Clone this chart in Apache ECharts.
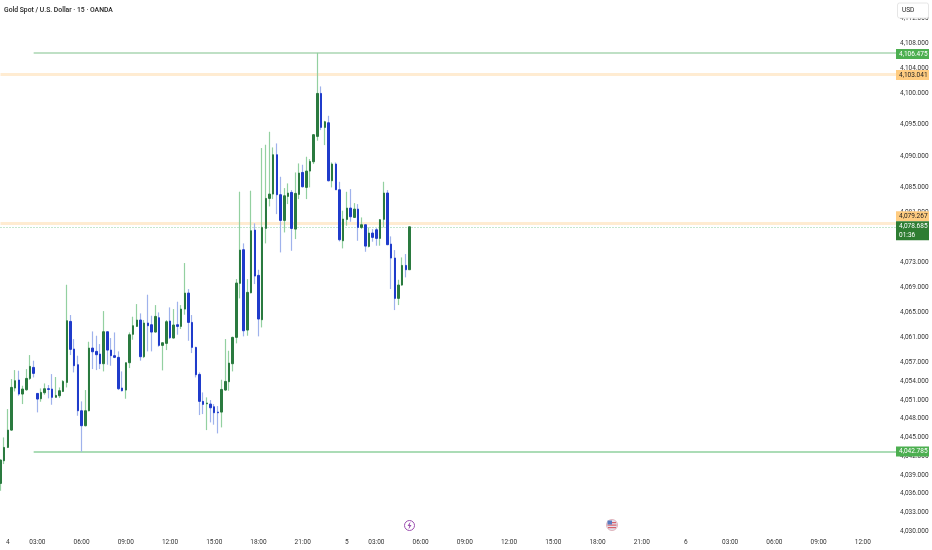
<!DOCTYPE html>
<html><head><meta charset="utf-8">
<style>html,body{margin:0;padding:0;background:#fff}#c{width:932px;height:550px}</style>
<script src="https://cdn.jsdelivr.net/npm/echarts@6/dist/echarts.min.js"></script>
</head><body><div id="c"></div>
<script>
const title = 'Gold Spot / U.S. Dollar · 15 · OANDA';
const opens = [4037.67,4041.29,4043.42,4046.19,4052.91,4054.19,4051.95,4052.64,4054.45,4056.21,4052.05,4051.20,4052.16,4052.80,4052.75,4051.42,4051.68,4052.37,4053.81,4063.56,4059.14,4056.64,4049.28,4046.89,4049.28,4059.30,4058.77,4058.34,4056.80,4061.91,4058.98,4058.08,4057.81,4052.91,4052.59,4056.96,4061.49,4062.76,4063.78,4057.92,4063.30,4063.03,4061.86,4064.15,4059.73,4060.05,4063.62,4060.90,4063.03,4062.76,4065.53,4068.09,4063.40,4059.41,4055.09,4050.78,4050.40,4050.35,4049.92,4049.07,4049.07,4052.59,4053.92,4056.80,4061.01,4069.64,4075.02,4062.18,4068.14,4078.16,4070.92,4063.83,4078.43,4083.22,4083.91,4090.20,4083.81,4079.70,4083.54,4084.18,4078.32,4083.86,4087.37,4084.98,4087.59,4089.08,4093.13,4100.00,4094.57,4095.31,4086.04,4088.71,4084.60,4076.45,4079.86,4081.67,4080.18,4081.51,4078.58,4079.01,4075.55,4077.68,4078.21,4076.83,4079.87,4084.08,4075.92,4073.69,4067.24,4069.37,4072.51,4071.82];
const closes = [4041.40,4043.42,4046.19,4053.01,4054.08,4051.95,4052.75,4054.45,4056.37,4055.25,4051.15,4052.21,4052.80,4052.69,4051.42,4051.73,4052.48,4053.97,4063.67,4059.09,4056.48,4049.28,4046.89,4049.28,4059.30,4058.71,4058.24,4056.80,4061.91,4058.98,4058.08,4057.81,4052.80,4052.48,4056.96,4061.43,4062.87,4063.78,4057.92,4063.30,4062.87,4061.86,4064.36,4059.73,4060.15,4063.51,4060.95,4062.98,4062.76,4065.53,4068.09,4063.40,4059.41,4055.04,4050.78,4050.30,4050.51,4049.76,4048.96,4048.96,4052.69,4053.97,4056.90,4061.01,4069.69,4074.96,4062.07,4068.20,4078.05,4070.81,4063.94,4078.59,4083.22,4083.91,4090.20,4083.81,4079.70,4083.64,4084.07,4078.42,4084.02,4087.27,4085.08,4087.59,4089.13,4093.40,4100.00,4094.57,4095.47,4086.04,4088.71,4084.60,4076.61,4079.92,4081.67,4080.29,4081.51,4078.58,4079.01,4075.60,4077.68,4076.99,4076.83,4079.81,4084.08,4075.82,4073.69,4067.24,4069.37,4072.51,4071.82,4078.685];
const lows = [4036.50,4040.76,4043.32,4046.09,4052.37,4051.68,4050.35,4052.48,4054.19,4054.61,4049.02,4050.72,4051.84,4051.26,4050.24,4051.42,4051.31,4052.27,4053.01,4058.18,4055.41,4048.48,4042.73,4046.78,4049.18,4055.94,4055.78,4055.94,4055.57,4056.64,4056.48,4057.70,4052.59,4052.37,4051.20,4056.10,4060.63,4062.70,4057.28,4057.70,4058.77,4058.77,4061.80,4059.51,4055.73,4058.98,4060.74,4060.85,4061.43,4062.34,4064.63,4060.47,4058.50,4054.61,4048.59,4048.75,4046.19,4047.42,4047.05,4045.66,4046.62,4052.48,4052.48,4055.57,4060.05,4067.24,4061.17,4061.27,4068.04,4069.53,4061.17,4062.60,4076.03,4081.94,4083.11,4080.71,4074.59,4077.78,4082.31,4074.85,4076.72,4083.11,4084.98,4083.11,4084.98,4088.71,4092.44,4094.14,4091.74,4085.94,4084.98,4084.60,4076.35,4075.23,4078.85,4079.49,4080.10,4076.45,4078.32,4074.69,4075.39,4076.30,4075.66,4075.66,4078.59,4075.76,4068.73,4065.37,4066.17,4069.26,4070.60,4071.82];
const highs = [4041.50,4045.02,4049.55,4054.35,4055.78,4055.68,4053.28,4055.94,4058.18,4057.28,4052.05,4052.85,4053.65,4053.39,4055.14,4054.67,4053.01,4054.19,4069.42,4064.58,4060.74,4058.08,4050.78,4052.59,4060.31,4061.96,4061.27,4059.94,4065.21,4061.91,4060.90,4061.80,4058.77,4055.57,4056.96,4061.80,4064.31,4066.33,4064.84,4063.78,4067.83,4064.47,4066.17,4065.00,4060.15,4063.78,4065.80,4065.53,4066.71,4066.17,4072.89,4068.73,4064.58,4059.51,4055.41,4052.21,4051.42,4050.99,4050.35,4050.03,4054.24,4060.74,4058.87,4061.11,4070.33,4084.29,4076.03,4070.33,4084.45,4079.23,4071.82,4091.27,4091.80,4093.87,4091.37,4092.01,4086.68,4084.87,4085.62,4084.55,4087.37,4088.81,4088.60,4089.88,4089.51,4093.50,4106.48,4101.12,4095.63,4096.43,4088.97,4088.97,4085.88,4081.25,4084.28,4084.71,4082.47,4082.31,4080.18,4079.01,4078.59,4078.32,4078.48,4079.92,4085.88,4084.55,4077.15,4074.96,4070.22,4073.79,4074.33,4078.69];

const slotCount = 244;
const timeTickSlots = [2,10,22,34,46,58,70,82,94,102,114,126,138,150,162,174,186,198,210,222,234];
const timeTickTexts = ['4','03:00','06:00','09:00','12:00','15:00','18:00','21:00','5','03:00','06:00','09:00','12:00','15:00','18:00','21:00','6','03:00','06:00','09:00','12:00'];
const priceTicks = [4030,4033,4036,4039,4042,4045,4048,4051,4054,4057,4061,4065,4069,4073,4081,4085,4090,4095,4100,4104,4108,4112];

const categories = Array.from({length:slotCount},(_,i)=>i);
const tickMap = new Map(timeTickSlots.map((s,i)=>[s,timeTickTexts[i]]));
const FONT = 'Roboto, sans-serif';
const GREEN='#2a7a3f', BLUE='#1f3bcb', GREEN_W='#93d0a0', BLUE_W='#9fb2ec';

const lastSlot = slotCount-1;
function level(val,start,text,col,w,type,bg,fg,dy){
  return [{coord:[start,val],lineStyle:{color:col,width:w,type:type},symbol:'none',
    label:{show:true,position:'end',distance:0,formatter:text,backgroundColor:bg,color:fg,
      fontFamily:FONT,fontSize:6.5,lineHeight:9,padding:[1,3,0,3],width:27,offset:[0,dy],align:'left'}},
    {coord:[lastSlot,val],symbol:'none'}];
}
const chart = echarts.init(document.getElementById('c'),null,{renderer:'canvas'});
const candle = (i)=>[opens[i],closes[i],lows[i],highs[i]];
chart.setOption({
  animation:false,
  backgroundColor:'#fff',
  grid:{left:0.5,top:0.7,right:36,height:533,containLabel:false,outerBoundsMode:'none'},
  xAxis:{type:'category',data:categories,boundaryGap:false,
    axisLine:{show:false},axisTick:{show:false},splitLine:{show:false},
    axisLabel:{margin:5,fontFamily:FONT,fontSize:6.5,color:'#333',
      interval:(i)=>tickMap.has(i),formatter:(v,i)=>tickMap.get(i)||''}},
  yAxis:{type:'value',position:'right',min:4029.63,max:4114.82,scale:true,
    axisLine:{show:false},axisTick:{show:false},splitLine:{show:false},
    axisLabel:{margin:4,fontFamily:FONT,fontSize:6.5,color:'#333',customValues:priceTicks,
      formatter:(v)=>v.toLocaleString('en-US',{minimumFractionDigits:3})}},
  graphic:[
    {type:'text',left:4,top:7,z:50,style:{text:title,font:'500 6.8px '+FONT,fill:'#222'}},
    {type:'rect',z:50,shape:{x:897.5,y:3,width:31,height:15,r:2},style:{fill:'#fff',stroke:'#e6e6e6',lineWidth:1}},
    {type:'text',z:51,left:902,top:7,style:{text:'USD',font:'6.5px '+FONT,fill:'#222'}},
    {type:'circle',z:50,shape:{cx:409.5,cy:525.5,r:5},style:{fill:'#fff',stroke:'#9c4fb0',lineWidth:1}},
    {type:'polygon',z:51,shape:{points:[[410.5,521.5],[407.5,526],[409.3,526],[408.5,529.5],[411.5,525],[409.7,525]]},style:{fill:'#9c4fb0'}},
    {type:'circle',z:50,shape:{cx:612,cy:525,r:5.5},style:{fill:'#e3e3ee',stroke:'#e0b4bc',lineWidth:1}},
    {type:'rect',z:51,shape:{x:608,y:522,width:8,height:1.2},style:{fill:'#d9606b'}},
    {type:'rect',z:51,shape:{x:607.5,y:524.5,width:9,height:1.2},style:{fill:'#d9606b'}},
    {type:'rect',z:51,shape:{x:608,y:527,width:8,height:1.2},style:{fill:'#d9606b'}},
    {type:'rect',z:52,shape:{x:607.5,y:520.5,width:4.5,height:4},style:{fill:'#5a7ac0'}}
  ],
  series:[
    {type:'candlestick',name:'wicks',barWidth:1,z:2,clip:false,
     itemStyle:{color:GREEN_W,color0:BLUE_W,borderColor:GREEN_W,borderColor0:BLUE_W,borderWidth:1.2},
     data:opens.map((_,i)=>candle(i)),
     markLine:{silent:true,symbol:'none',animation:false,z:1,clip:false,
       data:[
        level(4106.475,9,'4,106.475','#bfe0c5',2,'solid','#4caf50','#fff',1),
        level(4103.041,0,'4,103.041','#ffecd2',3,'solid','#ffcc80','#222',0.5),
        level(4079.267,0,'4,079.267','#ffecd2',3,'solid','#ffcc80','#222',-7),
        level(4078.685,0,'4,078.685\n01:36','#8fcf9c',1,[1,2],'#2e7d32','#fff',4),
        level(4042.785,9,'4,042.785','#8fd09e',1.5,'solid','#4caf50','#fff',0)
       ]}},
    {type:'candlestick',name:'bodies',barWidth:2,z:3,clip:false,
     itemStyle:{color:GREEN,color0:BLUE,borderColor:GREEN,borderColor0:BLUE,borderWidth:1},
     data:opens.map((_,i)=>[opens[i],closes[i],Math.min(opens[i],closes[i]),Math.max(opens[i],closes[i])])}
  ]
});
</script></body></html>
